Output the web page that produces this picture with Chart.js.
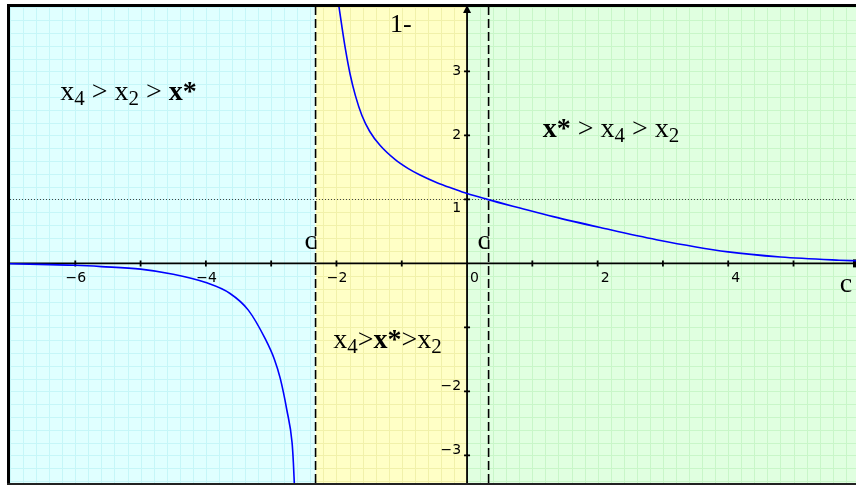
<!DOCTYPE html>
<html lang="en">
<head>
<meta charset="UTF-8">
<title>Regions around c</title>
<script src="https://cdn.jsdelivr.net/npm/chart.js"></script>
<style>
  html, body { margin: 0; padding: 0; background: #fff; }
  #wrap { width: 856px; height: 485px; }
</style>
</head>
<body>
<div id="wrap"><canvas id="plot" width="856" height="485"></canvas></div>
<script>
// curve, branch left of the pole (runs under the x axis)
const leftX = [-7.0, -6.4, -6.0, -5.6, -5.0, -4.5, -4.0, -3.63, -3.35, -3.09, -2.95, -2.86, -2.76, -2.68, -2.66, -2.645];
const leftY = [-0.005, -0.02, -0.03, -0.05, -0.09, -0.17, -0.30, -0.47, -0.73, -1.18, -1.5, -1.80, -2.29, -2.80, -3.11, -3.45];

// curve, branch right of the pole
const rightX = [-1.97, -1.92, -1.86, -1.79, -1.71, -1.61, -1.49, -1.33, -1.10, -0.90, -0.72, -0.46, -0.21, 0, 0.31, 0.81, 1.32, 2.04, 2.9, 4.0, 4.8, 5.7, 5.96];
const rightY = [4.07, 3.72, 3.33, 2.95, 2.62, 2.31, 2.06, 1.84, 1.62, 1.48, 1.38, 1.26, 1.165, 1.09, 1.0, 0.865, 0.73, 0.56, 0.37, 0.18, 0.10, 0.05, 0.04];

// axis ticks
const xTicks = [-6, -5, -4, -3, -2, -1, 1, 2, 3, 4, 5];
const xLabels = [-6, -4, -2, 0, 2, 4];
const yTicks = [-3, -2, -1, 1, 2, 3];
const yLabels = [-3, -2, 1, 2, 3];

// the two c lines, and the level y = 1
const cLines = [-2.32, 0.33];
const levelY = 1;

// shaded bands: [from, to, fill, grid]
const bands = [
  [-Infinity, -2.32, '#e0ffff', '#c6f6f8'],
  [-2.32, 0, '#ffffc6', '#f1f1aa'],
  [0, Infinity, '#e0ffe0', '#c8f6c8']
];

const serif = '"Liberation Serif", "Times New Roman", serif';

function drawRuns(ctx, x, y, runs, size) {
  ctx.textAlign = 'left';
  ctx.textBaseline = 'alphabetic';
  for (const r of runs) {
    const fs = r.sub ? Math.round(size * 0.75) : size;
    ctx.font = (r.bold ? 'bold ' : '') + fs + 'px ' + serif;
    ctx.fillText(r.t, x, y + (r.sub ? Math.round(size * 0.18) : 0));
    x += ctx.measureText(r.t).width;
  }
}

const decor = {
  id: 'decor',
  beforeDatasetsDraw(chart) {
    const { ctx, chartArea: a, scales: { x: xs, y: ys } } = chart;
    ctx.save();
    ctx.fillStyle = '#fff';
    ctx.fillRect(0, 0, chart.width, chart.height);

    // bands with their own grid
    for (const [from, to, fill, grid] of bands) {
      const l = from === -Infinity ? a.left : xs.getPixelForValue(from);
      const r = to === Infinity ? a.right : xs.getPixelForValue(to);
      ctx.save();
      ctx.beginPath();
      ctx.rect(l, a.top, r - l, a.bottom - a.top);
      ctx.clip();
      ctx.fillStyle = fill;
      ctx.fillRect(l, a.top, r - l, a.bottom - a.top);
      ctx.strokeStyle = grid;
      ctx.lineWidth = 1;
      ctx.beginPath();
      for (let k = Math.ceil(xs.min / 0.2); k * 0.2 <= xs.max; k++) {
        const px = Math.round(xs.getPixelForValue(k * 0.2)) + 0.5;
        ctx.moveTo(px, a.top); ctx.lineTo(px, a.bottom);
      }
      for (let k = Math.ceil(ys.min / 0.2); k * 0.2 <= ys.max; k++) {
        const py = Math.round(ys.getPixelForValue(k * 0.2)) + 0.5;
        ctx.moveTo(a.left, py); ctx.lineTo(a.right, py);
      }
      ctx.stroke();
      ctx.restore();
    }

    const x0 = xs.getPixelForValue(0);
    const y0 = ys.getPixelForValue(0);

    // dotted level line
    ctx.strokeStyle = '#444';
    ctx.lineWidth = 1;
    ctx.setLineDash([1, 2]);
    const yl = Math.round(ys.getPixelForValue(levelY)) + 0.5;
    ctx.beginPath();
    ctx.moveTo(a.left, yl); ctx.lineTo(a.right, yl);
    ctx.stroke();

    // dashed c lines
    ctx.strokeStyle = '#000';
    ctx.lineWidth = 1.6;
    ctx.setLineDash([9, 4]);
    for (const c of cLines) {
      const px = xs.getPixelForValue(c);
      ctx.beginPath();
      ctx.moveTo(px, a.top); ctx.lineTo(px, a.bottom);
      ctx.stroke();
    }
    ctx.setLineDash([]);

    // axes
    ctx.lineWidth = 1.8;
    ctx.beginPath();
    ctx.moveTo(a.left, y0); ctx.lineTo(a.right, y0);
    ctx.moveTo(x0, a.bottom); ctx.lineTo(x0, a.top + 4);
    for (const t of xTicks) {
      const px = xs.getPixelForValue(t);
      ctx.moveTo(px, y0 - 3); ctx.lineTo(px, y0 + 3);
    }
    for (const t of yTicks) {
      const py = ys.getPixelForValue(t);
      ctx.moveTo(x0 - 3, py); ctx.lineTo(x0 + 3, py);
    }
    ctx.stroke();
    ctx.fillStyle = '#000';
    // arrow heads
    ctx.beginPath();
    ctx.moveTo(x0, a.top - 1); ctx.lineTo(x0 - 4, a.top + 7); ctx.lineTo(x0 + 4, a.top + 7);
    ctx.closePath(); ctx.fill();
    ctx.fillRect(a.right - 3, y0 - 4, 3, 8);

    // tick labels
    ctx.font = '14px "DejaVu Sans", sans-serif';
    ctx.textBaseline = 'top';
    ctx.textAlign = 'left';
    for (const t of xLabels) {
      const px = xs.getPixelForValue(t);
      let sx = px + 3;
      if (t < 0) sx -= ctx.measureText('\u2212').width + 1;
      ctx.fillText((t < 0 ? '\u2212' : '') + Math.abs(t), sx, y0 + 8);
    }
    ctx.textAlign = 'right';
    ctx.textBaseline = 'middle';
    for (const t of yLabels) {
      const py = ys.getPixelForValue(t);
      const nudge = t === 1 ? 9 : (t < 0 ? -5 : 0);
      ctx.fillText((t < 0 ? '\u2212' : '') + Math.abs(t), x0 - 6, py + nudge);
    }
    ctx.restore();
  },
  afterDraw(chart) {
    const { ctx, scales: { x: xs, y: ys } } = chart;
    ctx.save();
    ctx.fillStyle = '#000';
    const P = (vx, vy) => [xs.getPixelForValue(vx), ys.getPixelForValue(vy)];

    let [px, py] = P(-6.23, 2.55);
    drawRuns(ctx, px, py, [
      { t: 'x' }, { t: '4', sub: true }, { t: ' > x' }, { t: '2', sub: true },
      { t: ' > ' }, { t: 'x*', bold: true }
    ], 28);

    [px, py] = P(1.16, 1.97);
    drawRuns(ctx, px, py, [
      { t: 'x*', bold: true }, { t: ' > x' }, { t: '4', sub: true },
      { t: ' > x' }, { t: '2', sub: true }
    ], 28);

    [px, py] = P(-2.05, -1.32);
    drawRuns(ctx, px, py, [
      { t: 'x' }, { t: '4', sub: true }, { t: '>' }, { t: 'x*', bold: true },
      { t: '>x' }, { t: '2', sub: true }
    ], 28);

    [px, py] = P(-1.18, 3.61);
    drawRuns(ctx, px, py, [{ t: '1-' }], 26);

    for (const [vx, vy] of [[-2.49, 0.22], [0.16, 0.22], [5.71, -0.45]]) {
      [px, py] = P(vx, vy);
      drawRuns(ctx, px, py, [{ t: 'c' }], 28);
    }

    // frame
    ctx.fillStyle = '#000';
    ctx.fillRect(7, 4, chart.width - 7, 3);
    ctx.fillRect(7, 4, 3, chart.height - 4);
    ctx.fillStyle = '#222';
    ctx.fillRect(7, 483, chart.width - 7, 2);
    ctx.restore();
  }
};

const toPts = (xa, ya) => xa.map((v, i) => ({ x: v, y: ya[i] }));

const curveStyle = {
  showLine: true,
  borderColor: '#0000ff',
  backgroundColor: '#0000ff',
  borderWidth: 1.6,
  pointRadius: 0,
  cubicInterpolationMode: 'monotone',
  fill: false
};

new Chart(document.getElementById('plot'), {
  type: 'scatter',
  data: {
    datasets: [
      { ...curveStyle, data: toPts(leftX, leftY) },
      { ...curveStyle, data: toPts(rightX, rightY) }
    ]
  },
  options: {
    responsive: false,
    animation: false,
    devicePixelRatio: 1,
    layout: { padding: { left: 10, top: 6, right: 0, bottom: 2 } },
    scales: {
      x: { type: 'linear', min: -7.0, max: 5.957, display: false },
      y: { type: 'linear', min: -3.43, max: 4.02, display: false }
    },
    plugins: { legend: { display: false }, tooltip: { enabled: false } }
  },
  plugins: [decor]
});
</script>
</body>
</html>
